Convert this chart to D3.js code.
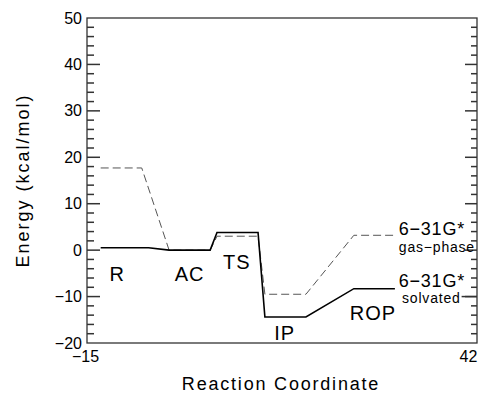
<!DOCTYPE html>
<html>
<head>
<meta charset="utf-8">
<script src="https://cdn.jsdelivr.net/npm/d3@7"></script>
<style>
  body { margin: 0; background: #fff; }
  svg { font-family: 'Liberation Sans', Arial, sans-serif; }
</style>
</head>
<body>
<div id="chart"></div>
<script>
// reaction coordinate of each stationary point
const coordSolvated = [-13, -6, -3, 3, 4, 10, 11, 17, 24, 30];
const energySolvated = [0.5, 0.5, 0, 0, 3.8, 3.8, -14.4, -14.4, -8.3, -8.3];
const coordGas = [-13, -7, -3, 3, 4, 10, 11, 17, 24, 30];
const energyGas = [17.7, 17.7, 0, 0, 3.0, 3.0, -9.5, -9.5, 3.2, 3.2];

const stageNames = ['R', 'AC', 'TS', 'IP', 'ROP'];
const stageX = [-10.6, 0, 6.9, 13.9, 26.8];
const stageY = [-5.0, -5.0, -2.6, -17.9, -13.6];

const xTicks = [-15, 42];
const yTicks = [50, 40, 30, 20, 10, 0, -10, -20];
const yMinor = [48, 46, 44, 42, 38, 36, 34, 32, 28, 26, 24, 22, 18, 16, 14, 12, 8, 6, 4, 2,
  -2, -4, -6, -8, -12, -14, -16, -18];

const W = 486, H = 395;
const MARGIN = { top: 18, right: 9, bottom: 52, left: 87 };
const iw = W - MARGIN.left - MARGIN.right;
const ih = H - MARGIN.top - MARGIN.bottom;

const svg = d3.select('#chart').append('svg')
  .attr('width', W).attr('height', H);
const g = svg.append('g')
  .attr('transform', 'translate(' + MARGIN.left + ',' + MARGIN.top + ')');

const x = d3.scaleLinear().domain([-15, 42]).range([0, iw]);
const y = d3.scaleLinear().domain([-20, 50]).range([ih, 0]);

const fmt = d => (d < 0 ? '\u2212' + Math.abs(d) : '' + d);

// frame
g.append('rect')
  .attr('x', 0).attr('y', 0).attr('width', iw).attr('height', ih)
  .attr('fill', 'none').attr('stroke', '#333').attr('stroke-width', 1.3);

// inward ticks on both sides
const majorInner = yTicks.filter(v => v > -20 && v < 50);
function tickSet(cls, values, x1, x2) {
  g.selectAll('line.' + cls)
    .data(values)
    .join('line')
    .attr('class', cls)
    .attr('x1', x1).attr('x2', x2)
    .attr('y1', d => y(d)).attr('y2', d => y(d))
    .attr('stroke', '#333').attr('stroke-width', 1.5);
}
tickSet('lmin', yMinor, 0, 7);
tickSet('lmaj', majorInner, 0, 13);
tickSet('rmin', yMinor, iw, iw - 6);
tickSet('rmaj', majorInner, iw, iw - 12);

// left tick labels
g.append('g')
  .call(d3.axisLeft(y).tickValues(yTicks).tickSize(0).tickPadding(5).tickFormat(fmt))
  .call(a => a.select('.domain').remove())
  .selectAll('text').attr('font-size', 16).attr('fill', '#000')
  .attr('font-family', 'Liberation Sans, Arial, sans-serif');

// bottom axis: only end labels
g.append('g').attr('transform', 'translate(0,' + ih + ')')
  .call(d3.axisBottom(x).tickValues(xTicks).tickSize(0).tickPadding(8).tickFormat(fmt))
  .call(a => a.select('.domain').remove())
  .selectAll('text').attr('font-size', 16).attr('fill', '#000')
  .attr('font-family', 'Liberation Sans, Arial, sans-serif')
  .attr('dx', d => d === 42 ? -9 : -2);

const line = d3.line().x(d => x(d[0])).y(d => y(d[1]));

g.append('path')
  .datum(d3.zip(coordGas, energyGas))
  .attr('d', line)
  .attr('fill', 'none')
  .attr('stroke', '#555')
  .attr('stroke-width', 1)
  .attr('stroke-dasharray', '8,4');

g.append('path')
  .datum(d3.zip(coordSolvated, energySolvated))
  .attr('d', line)
  .attr('fill', 'none')
  .attr('stroke', '#000')
  .attr('stroke-width', 1.6);

// stage labels
g.selectAll('text.stage')
  .data(stageNames)
  .join('text')
  .attr('class', 'stage')
  .attr('x', (d, i) => x(stageX[i]))
  .attr('y', (d, i) => y(stageY[i]))
  .attr('dy', '0.36em')
  .attr('text-anchor', 'middle')
  .attr('font-size', 20)
  .attr('letter-spacing', 1)
  .text(d => d);

// series labels at right edge
const legend = [
  { t: '6\u221231G*', v: 4.7, size: 18, right: 40.25 },
  { t: 'gas\u2212phase', v: 0.6, size: 14, right: 41.7 },
  { t: '6\u221231G*', v: -6.5, size: 18, right: 40.25 },
  { t: 'solvated', v: -10.4, size: 14, right: 39.6 }
];
g.selectAll('text.leg')
  .data(legend)
  .join('text')
  .attr('class', 'leg')
  .attr('x', d => x(d.right))
  .attr('y', d => y(d.v))
  .attr('dy', '0.36em')
  .attr('text-anchor', 'end')
  .attr('font-size', d => d.size)
  .attr('letter-spacing', 0.8)
  .text(d => d.t);
g.append('line')
  .attr('x1', x(39.75)).attr('x2', iw)
  .attr('y1', y(-10)).attr('y2', y(-10))
  .attr('stroke', '#333').attr('stroke-width', 1.5);

// axis titles
svg.append('text')
  .attr('x', MARGIN.left + x(-15) + 194)
  .attr('y', 390)
  .attr('text-anchor', 'middle')
  .attr('font-size', 18)
  .attr('letter-spacing', 1.8)
  .text('Reaction Coordinate');

svg.append('text')
  .attr('transform', 'translate(29,' + (MARGIN.top + y(15)) + ') rotate(-90)')
  .attr('text-anchor', 'middle')
  .attr('font-size', 18)
  .attr('letter-spacing', 2)
  .text('Energy (kcal/mol)');
</script>
</body>
</html>
